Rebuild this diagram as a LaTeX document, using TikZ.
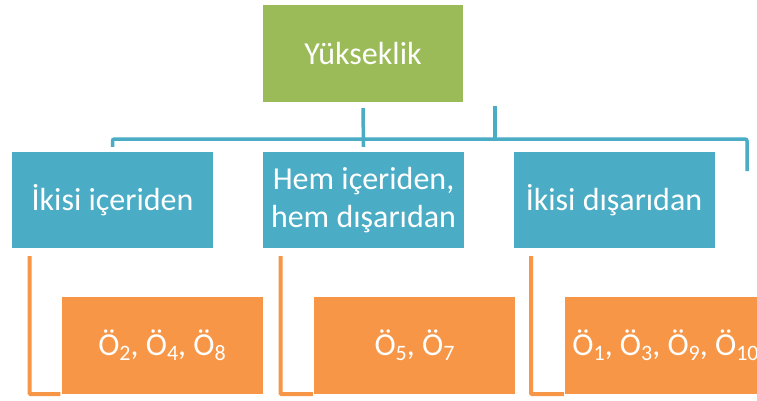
\documentclass[tikz,border=0pt]{standalone}
\usepackage{fontspec}
\setmainfont{Carlito}
\usetikzlibrary{positioning}
\definecolor{greenbox}{HTML}{9BBB59}
\definecolor{bluebox}{HTML}{4BACC6}
\definecolor{orangebox}{HTML}{F79646}
\newcommand{\Oix}[1]{Ö\raisebox{-0.3ex}{\fontsize{22}{22}\selectfont #1}}
\tikzset{%
    top_box/.style={%
        rectangle, minimum width=200pt, minimum height=97pt, inner sep=0pt, fill=greenbox, text=white, font=\fontsize{32}{38}\selectfont
    },
    group_box/.style={%
        rectangle, minimum width=201pt, minimum height=96pt, inner sep=0pt, fill=bluebox, text=white, align=center, font=\fontsize{32}{38}\selectfont
    },
    member_box/.style={%
        rectangle, minimum width=201pt, minimum height=97pt, inner sep=0pt, fill=orangebox, text=white, font=\fontsize{32}{38}\selectfont
    },
    bus_line/.style={%
        draw=bluebox, line width=3.5pt, rounded corners=2pt
    },
    bracket_line/.style={%
        draw=orangebox, line width=4pt, rounded corners=1pt
    },
}
\begin{document}
\begin{tikzpicture}[x=1pt,y=-1pt]
    \clip (0,0) rectangle (757,401);
    \fill[white] (0,0) rectangle (757,401);

    \node[top_box] (top) at (363,53.5) {Yükseklik};

    \foreach \i/\x/\txt in {1/112.5/{İkisi içeriden}, 2/363.5/{Hem içeriden,\\hem dışarıdan}, 3/614/{İkisi dışarıdan}}
        \node[group_box] (g\i) at (\x,200) {\txt};

    \node[member_box] (m1) at (162,345.5) {\Oix{2}, \Oix{4}, \Oix{8}};
    \node[member_box] (m2) at (414.5,345.5) {\Oix{5}, \Oix{7}};
    \node[member_box] (m3) at (665.5,345.5) {\Oix{1}, \Oix{3}, \Oix{9}, \Oix{10}};

    % blue connectors
    \coordinate (bus_right) at (747,171);
    \coordinate (bus_extra) at (495,106);
    \draw[bus_line] ([yshift=5pt]g1.north) |- (747,139) -- (bus_right);
    \draw[bus_line] ([yshift=-6pt]top.south) -- ([yshift=5pt]g2.north);
    \draw[bus_line] (bus_extra) -- (495,139);

    % orange brackets
    \foreach \i/\x in {1/29.5, 2/280.5, 3/531}
        \draw[bracket_line] (\x,256) |- (m\i.west |- 0,394) -- ([xshift=-6pt]m\i.west |- 0,394);
\end{tikzpicture}
\end{document}
